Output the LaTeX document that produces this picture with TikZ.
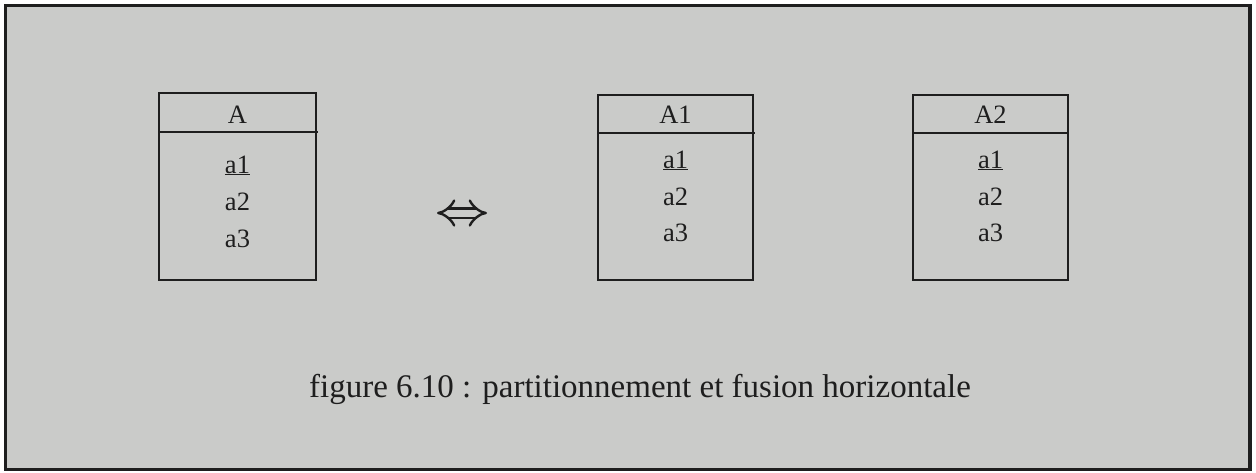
\documentclass[tikz,border=0pt]{standalone}
\usepackage{fontspec}
\setmainfont{Liberation Serif}
\usetikzlibrary{arrows.meta}
\definecolor{paper}{HTML}{CACBC9}
\definecolor{ink}{HTML}{1E1E1E}
\tikzset{
  frame/.style={draw=ink, line width=3.5pt, fill=paper},
  entbox/.style={draw=ink, line width=2.6pt},
  lbl/.style={anchor=base, inner sep=0pt, text=ink, font=\fontsize{26.5}{30}\selectfont},
  captext/.style={anchor=base, inner sep=0pt, text=ink, font=\fontsize{33}{38}\selectfont},
}
\begin{document}
\begin{tikzpicture}[x=1pt,y=-1pt]
\useasboundingbox (0,0) rectangle (1256,472);
\fill[white] (0,0) rectangle (1256,472);
\draw[frame] (5.5,5.5) rectangle (1250,469.5);
% Box A
\draw[entbox] (159,93) rectangle (316,280);
\draw[entbox] (159,132) -- (318,132);
\node[lbl] (tA) at (237.5,123) {A};
\node[lbl] (a1A) at (237.5,173) {\underline{a1}};
\node[lbl] (a2A) at (237.5,210) {a2};
\node[lbl] (a3A) at (237.5,247) {a3};
% Box A1
\draw[entbox] (598,95) rectangle (753,280);
\draw[entbox] (598,133) -- (755,133);
\node[lbl] (tA1) at (675.5,123) {A1};
\node[lbl] (a1B) at (675.5,168) {\underline{a1}};
\node[lbl] (a2B) at (675.5,205) {a2};
\node[lbl] (a3B) at (675.5,241) {a3};
% Box A2
\draw[entbox] (913,95) rectangle (1068,280);
\draw[entbox] (913,133) -- (1068,133);
\node[lbl] (tA2) at (990.5,123) {A2};
\node[lbl] (a1C) at (990.5,168) {\underline{a1}};
\node[lbl] (a2C) at (990.5,205) {a2};
\node[lbl] (a3C) at (990.5,241) {a3};
% Equivalence arrow
\coordinate (eqL) at (437,213);
\coordinate (eqR) at (487,213);
\draw[ink, line width=2.4pt, double=paper, double distance=7pt, {Implies}-{Implies}] (eqL) -- (eqR);
% Caption
\node[captext] (caption) at (640,397) {figure 6.10 : partitionnement et fusion horizontale};
\end{tikzpicture}
\end{document}
